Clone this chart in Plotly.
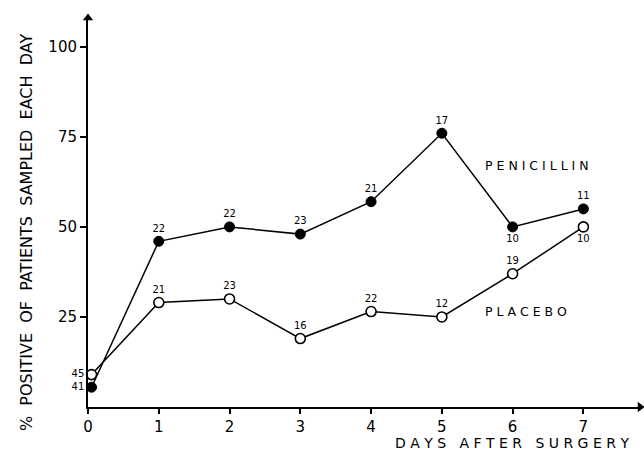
import plotly.graph_objects as go

days = [0.05, 1, 2, 3, 4, 5, 6, 7]
penicillin = [5.5, 46, 50, 48, 57, 76, 50, 55]
placebo = [9, 29, 30, 19, 26.5, 25, 37, 50]
pen_n = ["41", "22", "22", "23", "21", "17", "10", "11"]
pla_n = ["45", "21", "23", "16", "22", "12", "19", "10"]
pen_pos = ["middle left", "top center", "top center", "top center", "top center", "top center", "bottom center", "top center"]
pla_pos = ["middle left", "top center", "top center", "top center", "top center", "top center", "top center", "bottom center"]
x_ticks = [0, 1, 2, 3, 4, 5, 6, 7]
y_ticks = [25, 50, 75, 100]

FONT = "DejaVu Sans"
W, H = 644, 451
L, R, T, B = 88, 4, 18, 44
XMAX, YMAX = 7.8, 108

fig = go.Figure()
fig.add_trace(go.Scatter(
    x=days, y=penicillin, mode="lines+markers+text", text=pen_n, textposition=pen_pos,
    textfont=dict(family=FONT, size=10, color="black"),
    line=dict(color="black", width=1.5),
    marker=dict(size=10, color="black", line=dict(color="black", width=1)),
    cliponaxis=False, showlegend=False))
fig.add_trace(go.Scatter(
    x=days, y=placebo, mode="lines+markers+text", text=pla_n, textposition=pla_pos,
    textfont=dict(family=FONT, size=10, color="black"),
    line=dict(color="black", width=1.5),
    marker=dict(size=10, color="white", line=dict(color="black", width=1.6)),
    cliponaxis=False, showlegend=False))
# axis arrowheads
fig.add_trace(go.Scatter(x=[0], y=[YMAX], mode="markers",
    marker=dict(symbol="triangle-up", size=9, color="black"), cliponaxis=False, showlegend=False, hoverinfo="skip"))
fig.add_trace(go.Scatter(x=[XMAX], y=[0], mode="markers",
    marker=dict(symbol="triangle-right", size=9, color="black"), cliponaxis=False, showlegend=False, hoverinfo="skip"))

pw = W - L - R
ph = H - T - B
fig.update_layout(
    width=W, height=H, margin=dict(l=L, r=R, t=T, b=B),
    paper_bgcolor="white", plot_bgcolor="white",
    font=dict(family=FONT, color="black"),
    xaxis=dict(range=[0, XMAX], tickvals=x_ticks, ticktext=[str(v) for v in x_ticks],
               showline=True, linecolor="black", linewidth=2, ticks="outside", ticklen=5,
               tickwidth=1.5, tickcolor="black", showgrid=False, zeroline=False,
               tickfont=dict(family=FONT, size=15, color="black")),
    yaxis=dict(range=[0, YMAX], tickvals=y_ticks, showline=True, linecolor="black", linewidth=2,
               ticks="outside", ticklen=6, tickwidth=1.5, tickcolor="black", showgrid=False,
               zeroline=False, tickfont=dict(family=FONT, size=15, color="black")),
    annotations=[
        dict(text="%  POSITIVE  OF  PATIENTS  SAMPLED  EACH  DAY", textangle=-90,
             xref="paper", yref="paper", x=(26 - L) / pw, y=(407 - 233) / ph, showarrow=False,
             xanchor="center", yanchor="middle", font=dict(family=FONT, size=16, color="black")),
        dict(text="D A Y S   A F T E R   S U R G E R Y", xref="paper", yref="paper",
             x=(512 - L) / pw, y=-(443 - 407) / ph, showarrow=False,
             xanchor="center", yanchor="middle", font=dict(family=FONT, size=14, color="black")),
        dict(text="P E N I C I L L I N", xref="x", yref="y", x=5.58, y=67,
             showarrow=False, xanchor="left", yanchor="middle",
             font=dict(family=FONT, size=12.5, color="black")),
        dict(text="P L A C E B O", xref="x", yref="y", x=5.58, y=26.5,
             showarrow=False, xanchor="left", yanchor="middle",
             font=dict(family=FONT, size=12.5, color="black")),
    ],
)
fig.write_html("out.html", config={"displayModeBar": False},
               post_script="document.body.style.margin='0';")
